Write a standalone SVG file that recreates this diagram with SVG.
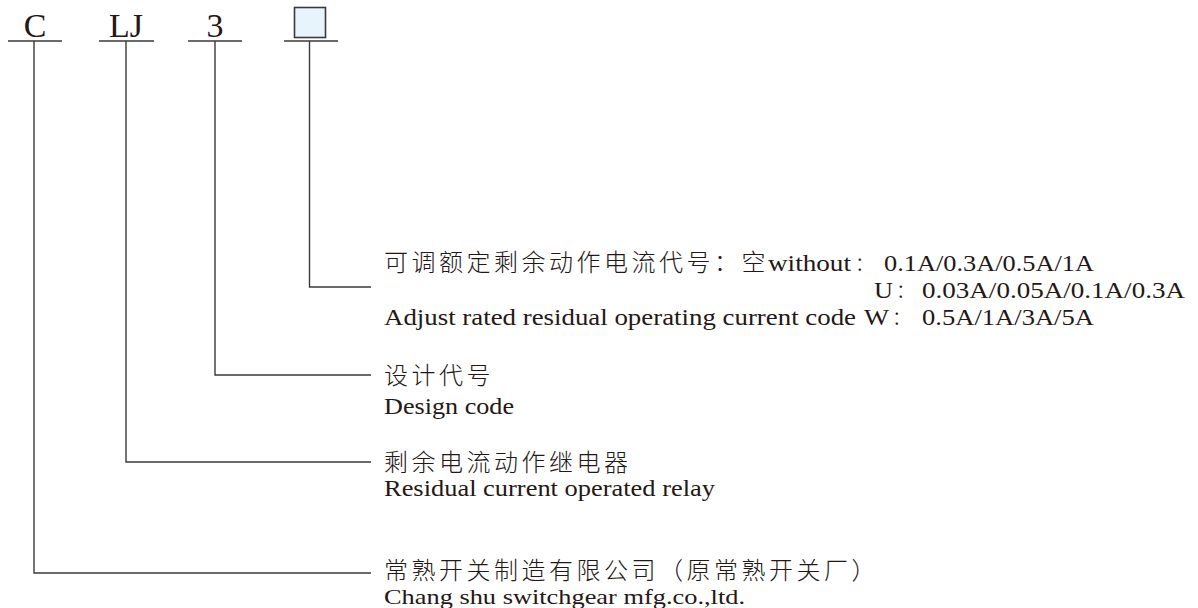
<svg xmlns="http://www.w3.org/2000/svg" width="1198" height="608" viewBox="0 0 1198 608">
<style>
.bg{fill:#ffffff}
.ln{stroke:#3a3a3a;stroke-width:1.4;fill:none}
.code{font-family:"Liberation Serif","Times New Roman",serif;font-size:34px;fill:#231815}
.zh{font-family:"Noto Sans CJK SC","Noto Sans",sans-serif;font-size:24px;font-weight:300;letter-spacing:3.5px;fill:#231815}
.zc{font-family:"Noto Sans CJK SC","Noto Sans",sans-serif;font-size:19px;font-weight:300;fill:#231815}
.en{font-family:"Liberation Serif","Times New Roman",serif;font-size:23px;fill:#231815}
.box{fill:#e8f4fc;stroke:#3a3a3a;stroke-width:1.6}
</style>
<rect class="bg" x="0" y="0" width="1198" height="608"/>
<g id="code-C">
<text class="code" x="35" y="37" text-anchor="middle">C</text>
<line class="ln" x1="8" y1="41" x2="62" y2="41"/>
</g>
<g id="code-LJ">
<text class="code" x="126" y="37" text-anchor="middle">LJ</text>
<line class="ln" x1="99" y1="41" x2="154" y2="41"/>
</g>
<g id="code-3">
<text class="code" x="215" y="37" text-anchor="middle">3</text>
<line class="ln" x1="188" y1="41" x2="242" y2="41"/>
</g>
<g id="code-box">
<rect class="box" x="294.5" y="7.5" width="31" height="30"/>
<line class="ln" x1="284" y1="41" x2="338" y2="41"/>
</g>
<g id="connectors">
<polyline class="ln" points="309.5,41 309.5,287 371,287"/>
<polyline class="ln" points="215,41 215,375 371,375"/>
<polyline class="ln" points="126,41 126,462 371,462"/>
<polyline class="ln" points="34,41 34,573 371,573"/>
</g>
<g id="label-current">
<text class="zh" x="384" y="271">可调额定剩余动作电流代号：空</text>
<text class="en" x="768" y="271" textLength="83" lengthAdjust="spacingAndGlyphs">without</text>
<text class="zc" x="855" y="271">：</text>
<text class="en" x="884" y="271" textLength="210" lengthAdjust="spacingAndGlyphs">0.1A/0.3A/0.5A/1A</text>
<text class="en" x="874" y="298" textLength="19" lengthAdjust="spacingAndGlyphs">U</text>
<text class="zc" x="896" y="298">：</text>
<text class="en" x="922" y="298" textLength="263" lengthAdjust="spacingAndGlyphs">0.03A/0.05A/0.1A/0.3A</text>
<text class="en" x="384" y="325" textLength="472" lengthAdjust="spacingAndGlyphs">Adjust rated residual operating current code</text>
<text class="en" x="864" y="325" textLength="25" lengthAdjust="spacingAndGlyphs">W</text>
<text class="zc" x="892" y="325">：</text>
<text class="en" x="922" y="325" textLength="172" lengthAdjust="spacingAndGlyphs">0.5A/1A/3A/5A</text>
</g>
<g id="label-design">
<text class="zh" x="384" y="384">设计代号</text>
<text class="en" x="384" y="414" textLength="130" lengthAdjust="spacingAndGlyphs">Design code</text>
</g>
<g id="label-relay">
<text class="zh" x="384" y="471">剩余电流动作继电器</text>
<text class="en" x="384" y="496" textLength="331" lengthAdjust="spacingAndGlyphs">Residual current operated relay</text>
</g>
<g id="label-maker">
<text class="zh" x="384" y="579">常熟开关制造有限公司（原常熟开关厂）</text>
<text class="en" x="384" y="604" style="font-size:22px" textLength="361" lengthAdjust="spacingAndGlyphs">Chang shu switchgear mfg.co.,ltd.</text>
</g>
</svg>
